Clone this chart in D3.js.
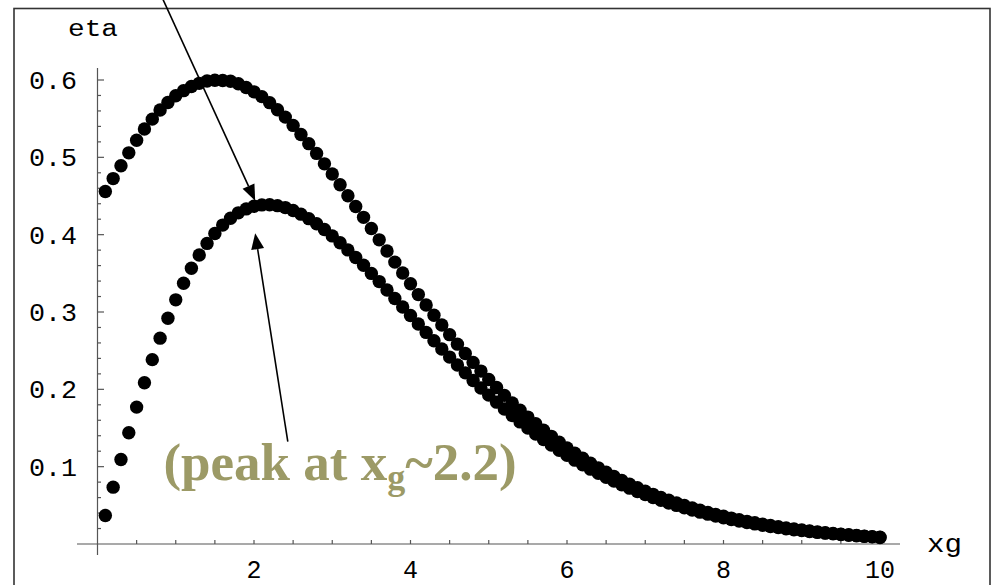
<!DOCTYPE html>
<html><head><meta charset="utf-8">
<script src="https://cdn.jsdelivr.net/npm/d3@7"></script>
<style>html,body{margin:0;padding:0;background:#fff;} svg{display:block}</style>
</head><body><svg id="c" width="993" height="585"></svg>
<script>
// ---- data ----
const xg = [0.1,0.2,0.3,0.4,0.5,0.6,0.7,0.8,0.9,1.0,
  1.1,1.2,1.3,1.4,1.5,1.6,1.7,1.8,1.9,2.0,
  2.1,2.2,2.3,2.4,2.5,2.6,2.7,2.8,2.9,3.0,
  3.1,3.2,3.3,3.4,3.5,3.6,3.7,3.8,3.9,4.0,
  4.1,4.2,4.3,4.4,4.5,4.6,4.7,4.8,4.9,5.0,
  5.1,5.2,5.3,5.4,5.5,5.6,5.7,5.8,5.9,6.0,
  6.1,6.2,6.3,6.4,6.5,6.6,6.7,6.8,6.9,7.0,
  7.1,7.2,7.3,7.4,7.5,7.6,7.7,7.8,7.9,8.0,
  8.1,8.2,8.3,8.4,8.5,8.6,8.7,8.8,8.9,9.0,
  9.1,9.2,9.3,9.4,9.5,9.6,9.7,9.8,9.9,10.0];
const etaUpper = [0.4559,0.4725,0.4892,0.5058,0.5220,0.5366,0.5494,0.5612,0.5710,0.5797,
  0.5862,0.5916,0.5957,0.5987,0.5996,0.5994,0.5983,0.5952,0.5903,0.5847,
  0.5785,0.5707,0.5615,0.5520,0.5413,0.5295,0.5177,0.5051,0.4916,0.4784,
  0.4646,0.4503,0.4365,0.4224,0.4079,0.3933,0.3789,0.3645,0.3505,0.3365,
  0.3225,0.3091,0.2958,0.2831,0.2707,0.2584,0.2463,0.2348,0.2236,0.2128,
  0.2023,0.1922,0.1825,0.1731,0.1641,0.1554,0.1472,0.1392,0.1316,0.1243,
  0.1174,0.1108,0.1045,0.0985,0.0928,0.0874,0.0822,0.0774,0.0727,0.0683,
  0.0642,0.0603,0.0566,0.0531,0.0498,0.0466,0.0437,0.0409,0.0383,0.0359,
  0.0335,0.0314,0.0293,0.0274,0.0256,0.0239,0.0223,0.0208,0.0194,0.0181,
  0.0169,0.0157,0.0146,0.0137,0.0127,0.0119,0.0111,0.0102,0.0096,0.0089];
const etaLower = [0.0369,0.0735,0.1092,0.1438,0.1770,0.2086,0.2384,0.2662,0.2920,0.3157,
  0.3372,0.3566,0.3737,0.3887,0.4016,0.4124,0.4213,0.4282,0.4333,0.4367,
  0.4385,0.4387,0.4375,0.4350,0.4313,0.4265,0.4207,0.4141,0.4066,0.3984,
  0.3896,0.3803,0.3705,0.3604,0.3499,0.3393,0.3284,0.3175,0.3065,0.2955,
  0.2845,0.2736,0.2628,0.2521,0.2417,0.2314,0.2213,0.2114,0.2018,0.1925,
  0.1834,0.1746,0.1661,0.1579,0.1500,0.1423,0.1350,0.1279,0.1211,0.1146,
  0.1084,0.1025,0.0968,0.0914,0.0862,0.0813,0.0766,0.0722,0.0679,0.0639,
  0.0601,0.0565,0.0531,0.0499,0.0468,0.0439,0.0412,0.0386,0.0362,0.0339,
  0.0317,0.0297,0.0278,0.0260,0.0243,0.0227,0.0212,0.0198,0.0185,0.0173,
  0.0161,0.0150,0.0140,0.0131,0.0122,0.0114,0.0106,0.0098,0.0092,0.0085];
const yTickValues = [0.1,0.2,0.3,0.4,0.5,0.6];
const yTickLabels = ["0.1","0.2","0.3","0.4","0.5","0.6"];
const xTickValues = [2,4,6,8,10];
const xTickLabels = ["2","4","6","8","10"];
const yAxisLabel = "eta";
const xAxisLabel = "xg";
// annotation: text and arrows, given in data coordinates
const noteMain = "(peak at x", noteSub = "g", noteTail = "~2.2)";
const notePos = [0.842, 0.0828];
const arrows = [
  {from:[0.811, 0.7099], to:[2.015, 0.444]},
  {from:[2.432, 0.1323], to:[2.015, 0.4018]}
];

// ---- drawing ----
const svg = d3.select("#c");
const x = d3.scaleLinear().domain([0,10]).range([97.5,880]);
const y = d3.scaleLinear().domain([0,0.6]).range([544,80]);
const mono = "'Liberation Mono', 'DejaVu Sans Mono', monospace";
const axisColor = "#555";

svg.append("rect").attr("x",14).attr("y",8.5).attr("width",976).attr("height",640)
  .attr("fill","none").attr("stroke","#333").attr("stroke-width",1.6);

const ax = svg.append("g").attr("stroke",axisColor).attr("stroke-width",1.2);
ax.append("line").attr("x1",77).attr("x2",900).attr("y1",y(0)).attr("y2",y(0));
ax.append("line").attr("x1",x(0)).attr("x2",x(0)).attr("y1",68).attr("y2",555);

// y ticks (minor every 0.02, major every 0.1)
const yMinor = d3.range(1,30).map(i => i*0.02).filter((v,i) => (i+1)%5 !== 0);
ax.selectAll("line.ymin").data(yMinor).join("line").attr("class","ymin")
  .attr("x1",x(0)).attr("x2",x(0)+3.5).attr("y1",d=>y(d)).attr("y2",d=>y(d));
ax.selectAll("line.ymaj").data(yTickValues).join("line").attr("class","ymaj")
  .attr("x1",x(0)).attr("x2",x(0)+6.5).attr("y1",d=>y(d)).attr("y2",d=>y(d));
// x ticks every 0.5
const xMinor = d3.range(1,21).map(i => i*0.5);
ax.selectAll("line.xt").data(xMinor).join("line").attr("class","xt")
  .attr("x1",d=>x(d)).attr("x2",d=>x(d)).attr("y1",y(0)).attr("y2",y(0)-4);

svg.selectAll("text.yl").data(yTickValues).join("text").attr("class","yl")
  .attr("x",77).attr("y",d=>y(d)).attr("dy","0.36em")
  .attr("text-anchor","end").attr("font-family",mono).attr("font-size",25)
  .attr("textLength",48).attr("lengthAdjust","spacingAndGlyphs")
  .attr("fill","#000").text((d,i)=>yTickLabels[i]);
svg.selectAll("text.xl").data(xTickValues).join("text").attr("class","xl")
  .attr("x",d=>x(d)).attr("y",578)
  .attr("text-anchor","middle").attr("font-family",mono).attr("font-size",25)
  .attr("fill","#000").text((d,i)=>xTickLabels[i]);
svg.append("text").attr("x",68).attr("y",35.5).attr("font-family",mono)
  .attr("font-size",23).attr("textLength",50).attr("lengthAdjust","spacingAndGlyphs")
  .text(yAxisLabel);
svg.append("text").attr("x",927).attr("y",551.5).attr("font-family",mono)
  .attr("font-size",25).attr("textLength",35).attr("lengthAdjust","spacingAndGlyphs")
  .text(xAxisLabel);

// dots
const pts = svg.append("g").attr("fill","#000");
pts.selectAll("circle.u").data(xg).join("circle").attr("class","u")
  .attr("cx",d=>x(d)).attr("cy",(d,i)=>y(etaUpper[i])).attr("r",6.7);
pts.selectAll("circle.l").data(xg).join("circle").attr("class","l")
  .attr("cx",d=>x(d)).attr("cy",(d,i)=>y(etaLower[i])).attr("r",6.7);

// arrows
arrows.forEach(a => {
  const x1 = x(a.from[0]), y1 = y(a.from[1]), x2 = x(a.to[0]), y2 = y(a.to[1]);
  const L = Math.hypot(x2-x1, y2-y1), ux = (x2-x1)/L, uy = (y2-y1)/L;
  const hl = 16, hw = 6.5;
  const bx = x2 - ux*hl, by = y2 - uy*hl;
  svg.append("line").attr("x1",x1).attr("y1",y1).attr("x2",bx).attr("y2",by)
    .attr("stroke","#000").attr("stroke-width",1.6);
  svg.append("path").attr("d",`M${x2},${y2}L${bx - uy*hw},${by + ux*hw}L${bx + uy*hw},${by - ux*hw}Z`)
    .attr("fill","#000");
});

// annotation text
const t = svg.append("text").attr("x",x(notePos[0])).attr("y",y(notePos[1]))
  .attr("font-family","'Liberation Serif', 'Times New Roman', serif").attr("font-weight","bold")
  .attr("font-size",53).attr("fill","#9c9a66");
t.append("tspan").text(noteMain);
t.append("tspan").attr("font-size",36).attr("dy",9).text(noteSub);
t.append("tspan").attr("font-size",53).attr("dy",-9).text(noteTail);
</script></body></html>
